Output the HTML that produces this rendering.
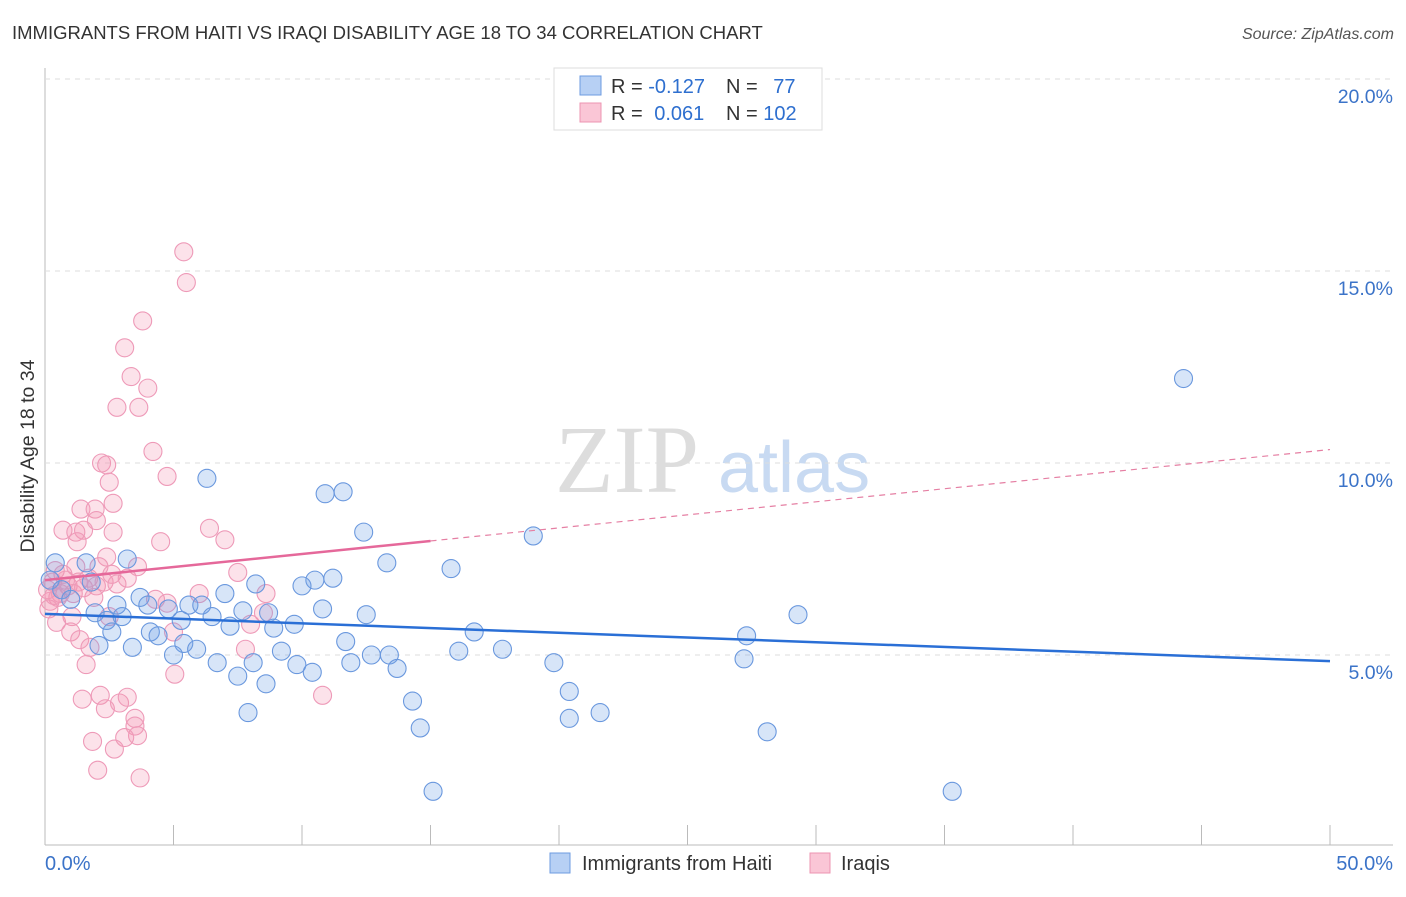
<!DOCTYPE html>
<html><head><meta charset="utf-8"><style>
body{margin:0;background:#fff;font-family:"Liberation Sans",sans-serif}
</style></head><body>
<svg width="1406" height="892" xmlns="http://www.w3.org/2000/svg" id="chart">
<text x="12" y="39" font-size="18.5" fill="#333">IMMIGRANTS FROM HAITI VS IRAQI DISABILITY AGE 18 TO 34 CORRELATION CHART</text>
<text x="1394" y="39" font-size="16" fill="#555" font-style="italic" text-anchor="end">Source: ZipAtlas.com</text>
<text x="555" y="492" font-size="96" fill="#ddd" font-family="Liberation Serif,serif">ZIP</text>
<text x="718" y="492" font-size="72" fill="#c8daf2">atlas</text>
<text transform="translate(34,456) rotate(-90)" font-size="19.5" fill="#333" text-anchor="middle">Disability Age 18 to 34</text>
<g id="grid"></g><g id="pts"></g><g id="trend"></g>
<g>
<rect x="554" y="68" width="268" height="62" fill="#fff" stroke="#ddd"/>
<rect x="580" y="76" width="21" height="19" fill="#b7d0f4" stroke="#6d9be0"/>
<rect x="580" y="103" width="21" height="19" fill="#fac6d6" stroke="#ec94b2"/>
<text x="611" y="93" font-size="20" fill="#333">R = <tspan fill="#2e6fcf">-0.127</tspan></text>
<text x="726" y="93" font-size="20" fill="#333">N = <tspan fill="#2e6fcf" dx="10">77</tspan></text>
<text x="611" y="120" font-size="20" fill="#333">R = <tspan fill="#2e6fcf" dx="6">0.061</tspan></text>
<text x="726" y="120" font-size="20" fill="#333">N = <tspan fill="#2e6fcf">102</tspan></text>
</g>
<g>
<rect x="550" y="853" width="20" height="20" fill="#b7d0f4" stroke="#6d9be0"/>
<text x="582" y="870" font-size="20" fill="#333">Immigrants from Haiti</text>
<rect x="810" y="853" width="20" height="20" fill="#fac6d6" stroke="#ec94b2"/>
<text x="841" y="870" font-size="20" fill="#333">Iraqis</text>
</g>
</svg>
<script>
const yTicks=[5,10,15,20];
const yTickLabels=["5.0%","10.0%","15.0%","20.0%"];
const xTicks=[0,5,10,15,20,25,30,35,40,45,50];
const haiti=[[44.3,12.2],[6.3,9.6],[10.9,9.2],[11.6,9.25],[12.4,8.2],[19.0,8.1],[3.2,7.5],[13.3,7.4],[15.8,7.25],[0.4,7.4],[1.6,7.4],[11.2,7.0],[10.5,6.95],[10.0,6.8],[8.2,6.85],[7.0,6.6],[3.7,6.5],[5.6,6.3],[6.1,6.3],[2.8,6.3],[4.8,6.2],[4.0,6.3],[7.7,6.15],[8.7,6.1],[10.8,6.2],[12.5,6.05],[29.3,6.05],[1.95,6.1],[3.0,6.0],[2.4,5.9],[5.3,5.9],[6.5,6.0],[7.2,5.75],[8.9,5.7],[9.7,5.8],[2.6,5.6],[4.1,5.6],[4.4,5.5],[16.7,5.6],[27.3,5.5],[11.7,5.35],[3.4,5.2],[5.4,5.3],[2.1,5.25],[5.9,5.15],[9.2,5.1],[12.7,5.0],[13.4,5.0],[16.1,5.1],[17.8,5.15],[5.0,5.0],[6.7,4.8],[8.1,4.8],[9.8,4.75],[11.9,4.8],[13.7,4.65],[10.4,4.55],[19.8,4.8],[27.2,4.9],[7.5,4.45],[8.6,4.25],[20.4,4.05],[14.3,3.8],[7.9,3.5],[21.6,3.5],[20.4,3.35],[14.6,3.1],[28.1,3.0],[15.1,1.45],[35.3,1.45],[0.2,6.95],[0.65,6.7],[1.0,6.45],[1.8,6.9]];
const iraqis=[[5.4,15.5],[5.5,14.7],[3.8,13.7],[3.1,13.0],[3.35,12.25],[4.0,11.95],[2.8,11.45],[3.65,11.45],[4.2,10.3],[2.2,10.0],[2.4,9.95],[2.5,9.5],[4.75,9.65],[2.65,8.95],[1.4,8.8],[1.95,8.8],[2.0,8.5],[2.65,8.2],[0.7,8.25],[1.2,8.2],[1.5,8.25],[1.25,7.95],[4.5,7.95],[6.4,8.3],[7.0,8.0],[3.6,7.3],[7.5,7.15],[2.4,7.55],[2.1,7.3],[8.6,6.6],[6.0,6.6],[4.3,6.45],[4.75,6.35],[8.5,6.1],[8.0,5.8],[5.0,5.6],[2.5,6.0],[0.45,5.85],[1.05,6.0],[1.0,5.6],[1.35,5.4],[1.75,5.2],[1.6,4.75],[7.8,5.15],[5.05,4.5],[10.8,3.95],[1.45,3.85],[2.15,3.95],[2.35,3.6],[2.9,3.75],[3.2,3.9],[3.5,3.35],[3.5,3.15],[3.6,2.9],[3.1,2.85],[1.85,2.75],[2.7,2.55],[2.05,2.0],[3.7,1.8],[0.1,6.7],[0.3,6.9],[0.5,6.5],[0.7,7.1],[0.9,6.8],[1.1,6.6],[1.3,6.9],[0.2,6.4],[0.4,7.2],[0.6,6.6],[0.8,6.95],[1.5,6.75],[1.7,7.0],[2.0,6.8],[2.3,6.9],[2.6,7.1],[1.9,6.5],[0.15,6.2],[0.35,6.55],[1.2,7.3],[2.8,6.85],[3.2,7.0]];
const haitiTrend=[6.07,4.84];
const iraqTrend=[6.95,10.35];
const iraqSolidEnd=15;
const NS="http://www.w3.org/2000/svg";
const X=v=>45+v*25.7, Y=v=>847-v*38.4;
function mk(t,a,p){const e=document.createElementNS(NS,t);for(const k in a)e.setAttribute(k,a[k]);p.appendChild(e);return e;}
const g=document.getElementById('grid');
mk('line',{x1:45,y1:68,x2:45,y2:845,stroke:'#bbb'},g);
mk('line',{x1:45,y1:845,x2:1393,y2:845,stroke:'#bbb'},g);
yTicks.forEach((t,i)=>{
 const l=mk('line',{x1:45,y1:Y(t),x2:1393,y2:Y(t),stroke:'#ddd','stroke-dasharray':'5,5'},g);
 
 
 const tx=mk('text',{x:1393,y:Y(t)+24,'font-size':19.5,fill:'#3b73c8','text-anchor':'end'},g);
 tx.textContent=yTickLabels[i];
 
 
});
xTicks.forEach(t=>{
 const l=mk('line',{x1:X(t),y1:825,x2:X(t),y2:845,stroke:'#bbb'},g);
 
 
});
const t0=mk('text',{x:45,y:870,'font-size':20,fill:'#3b73c8'},g);t0.textContent='0.0%';


const t1=mk('text',{x:1393,y:870,'font-size':20,fill:'#3b73c8','text-anchor':'end'},g);t1.textContent='50.0%';


const p=document.getElementById('pts');
iraqis.forEach(d=>{const c=mk('circle',{cx:X(d[0]),cy:Y(d[1]),r:9,fill:'rgba(244,150,180,0.28)',stroke:'#ee9ab8','stroke-width':1.1},p);
 
 });
haiti.forEach(d=>{const c=mk('circle',{cx:X(d[0]),cy:Y(d[1]),r:9,fill:'rgba(110,160,230,0.28)',stroke:'#6a98de','stroke-width':1.1},p);
 
 });
const tr=document.getElementById('trend');
const iy=x=>iraqTrend[0]+(iraqTrend[1]-iraqTrend[0])*x/50;
let a=mk('line',{x1:X(iraqSolidEnd),y1:Y(iy(iraqSolidEnd)),x2:X(50),y2:Y(iy(50)),stroke:'#e57fa3','stroke-width':1.2,'stroke-dasharray':'6,5'},tr);


a=mk('line',{x1:X(0),y1:Y(iy(0)),x2:X(iraqSolidEnd),y2:Y(iy(iraqSolidEnd)),stroke:'#e5689a','stroke-width':2.5},tr);


a=mk('line',{x1:X(0),y1:Y(haitiTrend[0]),x2:X(50),y2:Y(haitiTrend[1]),stroke:'#2a6fd6','stroke-width':2.5},tr);


</script>
</body></html>
